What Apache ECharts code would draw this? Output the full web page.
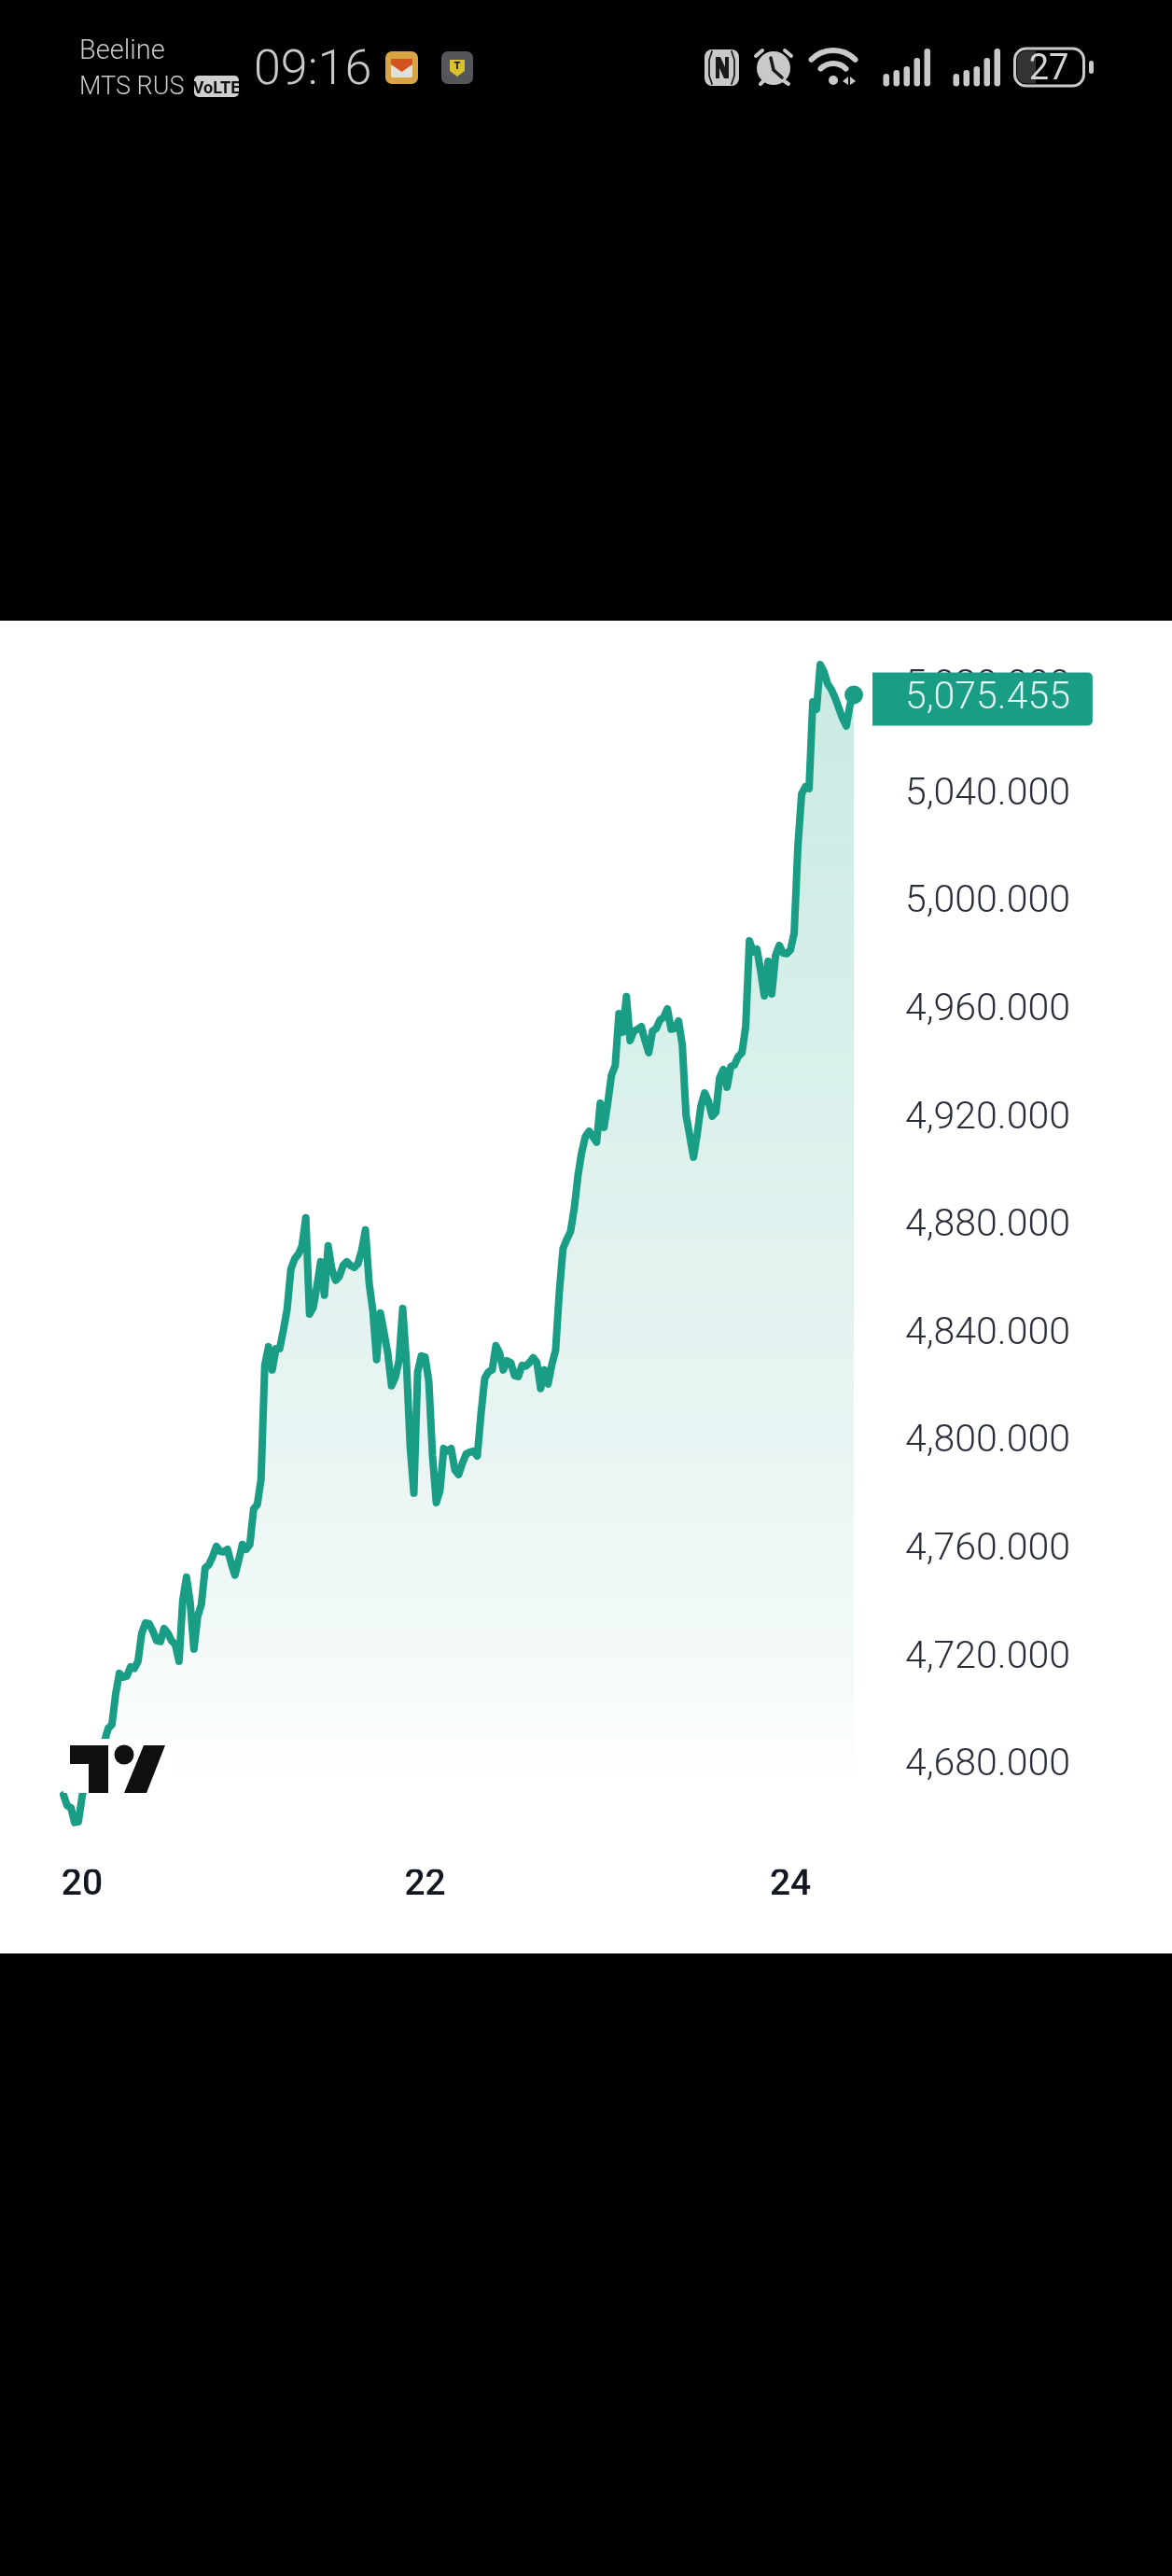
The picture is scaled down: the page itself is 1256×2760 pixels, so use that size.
<!DOCTYPE html>
<html>
<head>
<meta charset="utf-8">
<title>Price chart</title>
<style>
html, body { margin: 0; padding: 0; background: #000; }
#chart { width: 1256px; height: 2760px; }
</style>
<script src="https://cdn.jsdelivr.net/npm/echarts@6/dist/echarts.min.js"></script>
</head>
<body>
<div id="chart"></div>
<script>
// Closing prices, oldest bar first.
const prices = [
  4667.7,4663.6,4662.9,4657.4,4657.7,4667.0,4674.0,4677.4,4679.9,4682.6,
  4685.0,4687.5,4692.3,4693.7,4705.1,4712.7,4711.3,4711.7,4715.1,4714.5,
  4717.2,4727.6,4731.4,4731.1,4728.3,4724.8,4724.5,4729.3,4727.6,4724.8,
  4723.4,4717.2,4739.7,4748.4,4739.0,4721.7,4733.8,4738.3,4751.8,4752.9,
  4756.0,4759.8,4758.0,4757.7,4758.7,4753.5,4749.1,4754.6,4760.5,4758.7,
  4760.5,4773.6,4775.3,4784.7,4826.9,4833.8,4825.2,4833.1,4833.1,4840.0,
  4847.7,4862.5,4866.3,4868.1,4871.2,4881.6,4845.9,4848.4,4856.3,4865.3,
  4852.9,4871.2,4862.5,4858.4,4859.8,4863.9,4865.3,4863.9,4863.2,4864.6,
  4869.5,4877.1,4857.3,4847.0,4829.0,4846.3,4839.0,4831.4,4819.3,4822.4,
  4828.6,4848.0,4827.9,4796.8,4779.5,4824.5,4830.4,4830.0,4821.0,4793.3,
  4776.0,4780.5,4796.1,4795.1,4796.1,4788.1,4786.4,4790.6,4794.0,4794.7,
  4795.1,4793.3,4808.9,4822.1,4824.5,4825.2,4834.2,4831.4,4825.2,4828.6,
  4827.9,4823.1,4822.7,4826.9,4826.6,4827.9,4829.7,4827.9,4818.3,4825.2,
  4820.0,4827.2,4832.4,4853.9,4870.2,4873.6,4876.4,4885.0,4897.1,4905.8,
  4911.7,4913.7,4911.7,4909.6,4924.1,4915.1,4924.1,4934.5,4938.0,4957.3,
  4950.4,4963.6,4947.3,4950.8,4951.5,4952.5,4947.3,4942.8,4950.8,4951.8,
  4954.9,4956.0,4959.1,4951.5,4951.8,4954.6,4945.6,4919.6,4912.0,4904.1,
  4912.7,4923.1,4927.9,4924.8,4919.3,4920.7,4933.5,4936.6,4930.0,4937.6,
  4938.3,4941.4,4942.8,4952.5,4984.3,4980.2,4981.2,4973.3,4963.9,4976.7,
  4964.6,4978.8,4982.6,4979.8,4979.5,4980.9,4987.1,5019.3,5038.7,5041.4,
  5040.7,5072.9,5070.1,5086.7,5084.0,5079.5,5077.4,5074.3,5070.5,5066.7,
  5063.9,5071.9,5075.455
];

// Day-of-month labels and the bar each one sits on.
const dayLabels = ['20', '22', '24'];
const dayBars = [5, 97, 195];

// Price scale.
const priceTicks = [4680, 4720, 4760, 4800, 4840, 4880, 4920, 4960, 5000, 5040, 5080];
const priceMin = 4640;
const priceMax = 5120;
const priceStep = 40;

const lastIndex = prices.length - 1;
const lastPrice = prices[lastIndex];
const categories = prices.map((_, i) => {
  const k = dayBars.indexOf(i);
  return k >= 0 ? dayLabels[k] : '';
});
const formatPrice = v => Number(v).toLocaleString('en-US', {
  minimumFractionDigits: 3, maximumFractionDigits: 3
});

const GREEN = '#1a9d85';
const ICON = '#c9c9c9';
const DARK = '#1a1a1a';

// Phone status bar pieces.
const label = (x, y, text, font, fill, align, z) => ({
  type: 'text', z: z || 5,
  style: { x, y, text, font, fill: fill || ICON, align: align || 'left', verticalAlign: 'middle' }
});
const box = (x, y, width, height, r, fill, z) => ({
  type: 'rect', z: z || 5,
  shape: { x, y, width, height, r },
  style: { fill }
});
const poly = (points, fill, z) => ({
  type: 'polygon', z: z || 6,
  shape: { points },
  style: { fill }
});
const stroke = (points, color, width, z) => ({
  type: 'polyline', z: z || 6,
  shape: { points },
  style: { stroke: color, lineWidth: width, fill: null, lineCap: 'round', lineJoin: 'round' }
});
const signalBars = x0 => [
  [0, 79], [11, 75], [22, 71], [33, 62], [44, 52]
].map(([dx, top]) => box(x0 + dx, top, 6.5, 92.5 - top, 3.2, ICON));
const wifiArc = r => ({
  type: 'arc', z: 5,
  shape: { cx: 893, cy: 87, r, startAngle: -2.36, endAngle: -0.78 },
  style: { stroke: ICON, lineWidth: 6, fill: null, lineCap: 'round' }
});

const statusBar = [
  label(85, 56, 'Beeline', '300 29px Roboto'),
  label(85, 94, 'MTS RUS', '300 27px Roboto'),
  box(208, 81, 48, 23, 5, '#cfcfcf'),
  label(232, 95, 'VoLTE', '700 18px "Liberation Sans Narrow", Roboto', '#111', 'center', 6),
  label(272, 77, '09:16', '300 52px Roboto'),

  // mail notification
  box(413, 55, 35, 35, 7, '#d9a544'),
  box(419, 63, 23, 20, 2, '#e2e0dc', 6),
  poly([[419, 63], [442, 63], [442, 69], [430.5, 77], [419, 69]], '#d4521e', 7),

  // shield notification
  box(473, 55, 34, 35, 7, '#55555c'),
  poly([[482, 64], [498, 64], [498, 76], [490, 82], [482, 76]], '#d9c22e'),
  label(490, 71, 'T', '800 11px Roboto', '#111', 'center', 7),

  // NFC
  box(755, 53, 37, 39, 8, ICON),
  stroke([[763, 55], [760, 64], [760, 81], [763, 90]], DARK, 1.8),
  stroke([[784, 55], [787, 64], [787, 81], [784, 90]], DARK, 1.8),
  poly([[767, 61], [772, 61], [777, 72], [777, 61], [781, 61], [781, 84], [776, 84], [771, 73], [771, 84], [767, 84]], DARK),

  // alarm clock
  { type: 'circle', z: 5, shape: { cx: 829, cy: 73, r: 18 }, style: { fill: ICON } },
  stroke([[826, 62], [829, 75], [838, 83]], DARK, 3.5),
  stroke([[810, 60], [817, 54]], ICON, 4, 5),
  stroke([[841, 54], [848, 60]], ICON, 4, 5),
  stroke([[815, 90], [819, 86]], ICON, 4, 5),
  stroke([[839, 86], [845, 90]], ICON, 4, 5),

  // Wi-Fi
  wifiArc(33), wifiArc(19),
  { type: 'circle', z: 5, shape: { cx: 893, cy: 86, r: 5 }, style: { fill: ICON } },
  poly([[903, 87], [909, 82], [909, 91]], ICON, 5),
  poly([[911, 82], [917, 87], [911, 91]], ICON, 5),

  ...signalBars(946.5),
  ...signalBars(1021.5),

  // battery
  box(1087.5, 52, 74, 40, 12, '#000'),
  { type: 'rect', z: 6, shape: { x: 1090, y: 54.5, width: 20, height: 35, r: [9, 0, 0, 9] }, style: { fill: '#333' } },
  { type: 'rect', z: 7, shape: { x: 1087.5, y: 52, width: 74, height: 40, r: 12 },
    style: { fill: null, stroke: ICON, lineWidth: 3 } },
  label(1124, 75, '27', '400 38px Roboto', '#d4d4d4', 'center', 8),
  box(1167, 65, 5, 14, 2.5, ICON)
];

// Price panel background and the corner logo with its white plate.
const panel = box(0, 665, 1256, 1428, 0, '#ffffff', -10);
const logo = [
  box(68, 1863, 116, 58, 0, '#ffffff', 20),
  poly([[75, 1870], [116, 1870], [116, 1921], [95, 1921], [95, 1890], [75, 1890]], '#0f0f0f', 21),
  { type: 'circle', z: 21, shape: { cx: 133, cy: 1880, r: 10.5 }, style: { fill: '#0f0f0f' } },
  poly([[154, 1870], [177, 1870], [157, 1921], [133, 1921]], '#0f0f0f', 21)
];

const chart = echarts.init(document.getElementById('chart'), null, { renderer: 'canvas' });
chart.setOption({
  animation: false,
  backgroundColor: '#000000',
  graphic: { elements: [panel, ...statusBar, ...logo] },
  grid: { left: 68, top: 615.8, width: 847, height: 1387.2, containLabel: false },
  xAxis: {
    type: 'category',
    data: categories,
    boundaryGap: false,
    axisLine: { show: false },
    axisTick: { show: false },
    splitLine: { show: false },
    axisLabel: {
      interval: 0,
      margin: 17,
      verticalAlign: 'middle',
      color: '#131722',
      fontFamily: 'Roboto',
      fontWeight: 500,
      fontSize: 39
    }
  },
  yAxis: {
    type: 'value',
    position: 'right',
    min: priceMin,
    max: priceMax,
    interval: priceStep,
    axisLine: { show: false },
    axisTick: { show: false },
    splitLine: { show: false },
    axisLabel: {
      customValues: priceTicks,
      formatter: v => `{p|${formatPrice(v)}}`,
      margin: 55,
      rich: {
        p: {
          padding: [9, 0, 0, 0],
          color: '#2a2e39',
          fontFamily: 'Roboto',
          fontWeight: 300,
          fontSize: 41
        }
      }
    }
  },
  series: [{
    type: 'line',
    data: prices,
    clip: false,
    showSymbol: false,
    smooth: false,
    z: 3,
    lineStyle: { color: GREEN, width: 8, cap: 'round', join: 'round' },
    areaStyle: {
      color: new echarts.graphic.LinearGradient(0, 0, 0, 1, [
        { offset: 0, color: '#b4e1d8' },
        { offset: 0.25, color: '#c2e7df' },
        { offset: 0.45, color: '#d2ece7' },
        { offset: 0.65, color: '#dff0ee' },
        { offset: 0.84, color: '#f0f9f7' },
        { offset: 0.93, color: '#ffffff' },
        { offset: 1, color: '#ffffff' }
      ])
    },
    markPoint: {
      silent: true,
      symbol: 'circle',
      symbolSize: 20,
      itemStyle: { color: GREEN },
      label: { show: false },
      data: [{ coord: [lastIndex, lastPrice] }]
    },
    markLine: {
      silent: true,
      symbol: 'none',
      lineStyle: { color: 'transparent', width: 1 },
      label: {
        show: true,
        position: 'end',
        distance: 20,
        offset: [0, 4.5],
        formatter: () => formatPrice(lastPrice),
        color: '#e6f7f3',
        fontFamily: 'Roboto',
        fontWeight: 300,
        fontSize: 41,
        backgroundColor: GREEN,
        borderRadius: [0, 5, 5, 0],
        padding: [7, 24, 9, 35]
      },
      data: [{ yAxis: lastPrice }]
    }
  }]
});
</script>
</body>
</html>
